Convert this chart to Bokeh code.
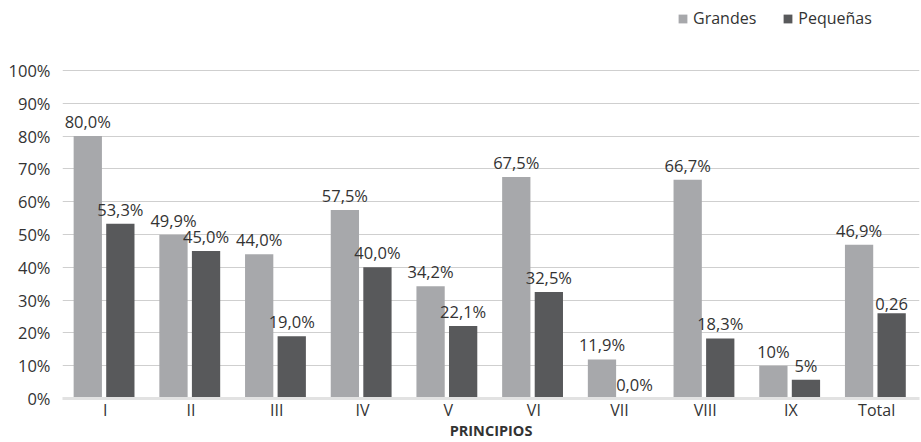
from bokeh.plotting import figure
from bokeh.models import (ColumnDataSource, FactorRange, FixedTicker, PrintfTickFormatter,
                          Legend, LegendItem, Range1d)
from bokeh.transform import dodge
from bokeh.core.properties import value
from bokeh.embed import file_html
from bokeh.resources import INLINE

categories = ["I", "II", "III", "IV", "V", "VI", "VII", "VIII", "IX", "Total"]
grandes = [80.0, 49.9, 44.0, 57.5, 34.2, 67.5, 11.9, 66.7, 10.0, 46.9]
pequenas = [53.3, 45.0, 19.0, 40.0, 22.1, 32.5, 0.0, 18.3, 5.7, 26.0]
grandes_labels = ["80,0%", "49,9%", "44,0%", "57,5%", "34,2%", "67,5%", "11,9%", "66,7%", "10%", "46,9%"]
pequenas_labels = ["53,3%", "45,0%", "19,0%", "40,0%", "22,1%", "32,5%", "0,0%", "18,3%", "5%", "0,26"]
y_ticks = [0, 10, 20, 30, 40, 50, 60, 70, 80, 90, 100]

FONT = "Open Sans"
LIGHT = "#a7a8ab"
DARK = "#58595b"
TXT = "#333333"

src = ColumnDataSource(dict(cat=categories, g=grandes, p=pequenas,
                            gl=grandes_labels, pl=pequenas_labels))

# frame spans the full top so the legend can sit inside it; gridlines stop at 100 %
p = figure(width=921, height=442, x_range=FactorRange(*categories, range_padding=0),
           y_range=Range1d(0, 121.34), output_backend="svg", toolbar_location=None,
           min_border_left=62, min_border_right=2, min_border_top=0, min_border_bottom=44)
p.outline_line_color = None
p.background_fill_color = "white"

G_OFF, P_OFF, W = -0.205, 0.175, 0.33
rg = p.vbar(x=dodge("cat", G_OFF, range=p.x_range), top="g", width=W, source=src,
            fill_color=LIGHT, line_color=None)
rp = p.vbar(x=dodge("cat", P_OFF, range=p.x_range), top="p", width=W, source=src,
            fill_color=DARK, line_color=None)

p.text(x=dodge("cat", G_OFF, range=p.x_range), y="g", text="gl", source=src,
       text_font=value(FONT), text_font_size="16.5px", text_color=TXT,
       text_align="center", text_baseline="bottom", y_offset=-3)
p.text(x=dodge("cat", P_OFF, range=p.x_range), y="p", text="pl", source=src,
       text_font=value(FONT), text_font_size="16.5px", text_color=TXT,
       text_align="center", text_baseline="bottom", y_offset=-3)

p.yaxis.ticker = FixedTicker(ticks=y_ticks)
p.yaxis.formatter = PrintfTickFormatter(format="%d%%")
p.yaxis.axis_line_color = None
p.yaxis.major_tick_line_color = None
p.yaxis.minor_tick_line_color = None
p.yaxis.major_tick_out = 0
p.yaxis.minor_tick_out = 0
p.yaxis.major_label_text_font = FONT
p.yaxis.major_label_text_font_size = "16.5px"
p.yaxis.major_label_text_color = TXT
p.yaxis.major_label_standoff = 12

p.xaxis.axis_line_color = "#e2e2e2"
p.xaxis.axis_line_width = 3
p.xaxis.major_tick_line_color = None
p.xaxis.minor_tick_line_color = None
p.xaxis.major_tick_out = 0
p.xaxis.minor_tick_out = 0
p.xaxis.major_label_text_font = FONT
p.xaxis.major_label_text_font_size = "16px"
p.xaxis.major_label_text_color = TXT
p.xaxis.major_label_standoff = 0
p.xaxis.axis_label = "PRINCIPIOS"
p.xaxis.axis_label_text_font = FONT
p.xaxis.axis_label_text_font_style = "bold"
p.xaxis.axis_label_text_font_size = "14.5px"
p.xaxis.axis_label_text_color = TXT
p.xaxis.axis_label_standoff = -3

p.xgrid.grid_line_color = None
p.ygrid.grid_line_color = "#cfcfcf"
p.ygrid.grid_line_width = 1

legend = Legend(items=[LegendItem(label="Grandes", renderers=[rg]),
                       LegendItem(label="Pequeñas", renderers=[rp])],
                orientation="horizontal", location=(615, 369),
                border_line_color=None, background_fill_alpha=0,
                padding=0, margin=0, spacing=26, label_standoff=5,
                glyph_width=11, glyph_height=11,
                label_text_font=FONT, label_text_font_size="16px", label_text_color=TXT)
p.add_layout(legend)

open("out.html", "w").write(file_html(p, INLINE))
